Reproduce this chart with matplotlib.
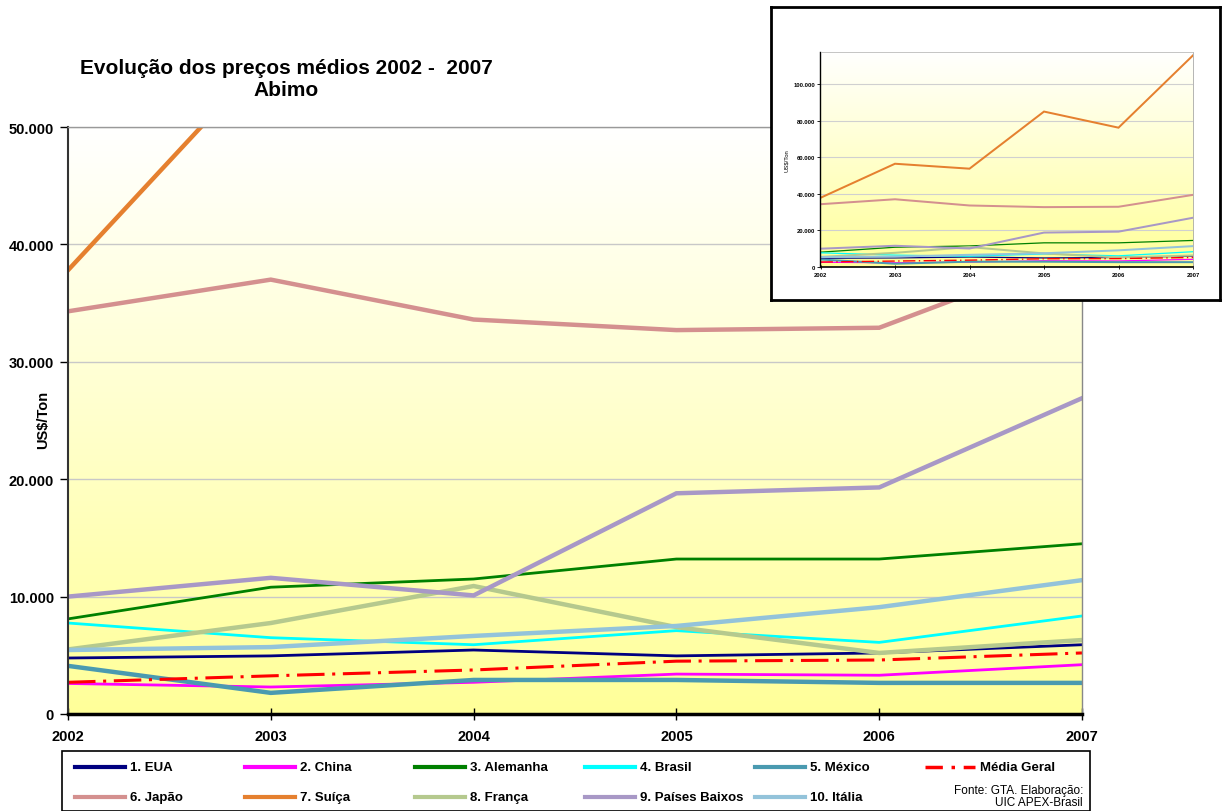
import numpy as np
import matplotlib
matplotlib.use("Agg")
import matplotlib.pyplot as plt
from matplotlib.ticker import FuncFormatter, MultipleLocator
from matplotlib.lines import Line2D
from matplotlib.patches import Rectangle
from matplotlib.colors import LinearSegmentedColormap

plt.rcParams['font.family'] = ['Liberation Sans', 'DejaVu Sans']

# ---------------- data ----------------
anos = [2002, 2003, 2004, 2005, 2006, 2007]
eua = [4770, 4950, 5450, 4950, 5200, 5900]
china = [2600, 2300, 2700, 3400, 3300, 4200]
alemanha = [8100, 10800, 11500, 13200, 13200, 14500]
brasil = [7750, 6500, 5900, 7100, 6100, 8350]
mexico = [4100, 1800, 2900, 2900, 2650, 2650]
japao = [34300, 37000, 33600, 32700, 32900, 39400]
suica = [37800, 56400, 53700, 84900, 76100, 115600]
franca = [5500, 7750, 10900, 7400, 5200, 6300]
paises_baixos = [10000, 11600, 10100, 18800, 19300, 26900]
italia = [5450, 5700, 6650, 7500, 9100, 11400]
media_geral = [2700, 3250, 3750, 4500, 4600, 5200]

nomes = ["1. EUA", "2. China", "3. Alemanha", "4. Brasil", "5. México",
         "6. Japão", "7. Suíça", "8. França", "9. Países Baixos", "10. Itália",
         "Média Geral"]
series = [eua, china, alemanha, brasil, mexico, japao, suica, franca,
          paises_baixos, italia, media_geral]
cores = ["#000080", "#FF00FF", "#008000", "#00FFFF", "#4A9AB0",
         "#D4908F", "#E5802F", "#B5C98E", "#A898C6", "#93C3DA", "#FF0000"]
larguras = [2.0, 2.0, 2.0, 2.0, 3.2, 3.2, 3.2, 3.2, 3.2, 3.2, 2.2]
estilos = ["-"] * 10 + ["dashdot"]

titulo_1 = "Evolução dos preços médios 2002 -  2007"
titulo_2 = "Abimo"
fonte_txt = "Fonte: GTA. Elaboração:\nUIC APEX-Brasil"

W, H = 1223, 812
fig = plt.figure(figsize=(W / 100, H / 100), dpi=100)
fig.patch.set_facecolor("white")

grad_cmap = LinearSegmentedColormap.from_list("g", ["#FFFF99", "#FFFFFF"])

def fx(px):
    return px / W

def fy(py):
    return 1 - py / H

def fmt(v, pos):
    return f"{v:,.0f}".replace(",", ".")

def style_series(ax, lw_scale=1.0):
    for s, c, lw, ls in zip(series, cores, larguras, estilos):
        if ls == "dashdot":
            ax.plot(anos, s, color=c, lw=lw * lw_scale, dashes=(9, 2.5, 1, 2.5),
                    solid_capstyle="butt")
        else:
            ax.plot(anos, s, color=c, lw=lw * lw_scale, solid_joinstyle="miter")

# ---------------- main axes ----------------
ax = fig.add_axes([fx(68), fy(715), fx(1082 - 68), (715 - 128) / H])
ax.set_xlim(2002, 2007)
ax.set_ylim(0, 50000)
ax.imshow(np.linspace(0, 1, 256).reshape(-1, 1), aspect="auto", cmap=grad_cmap,
          extent=[2002, 2007, 0, 50000], origin="lower", zorder=0)
ax.yaxis.set_major_locator(MultipleLocator(10000))
ax.grid(axis="y", color="#C8C8C8", lw=1, zorder=0.5)
style_series(ax)
ax.yaxis.set_major_formatter(FuncFormatter(fmt))
ax.set_xticks(anos)
ax.tick_params(axis="y", direction="out", length=6, width=1, labelsize=10.5, pad=4)
ax.tick_params(axis="x", direction="inout", length=9, width=1, labelsize=10.5, pad=6)
for lab in ax.get_xticklabels() + ax.get_yticklabels():
    lab.set_fontweight("bold")
ax.spines["bottom"].set_linewidth(2.5)
ax.spines["bottom"].set_color("black")
ax.spines["left"].set_linewidth(1.5)
ax.spines["left"].set_color("#333333")
ax.spines["right"].set_color("#888888")
ax.spines["right"].set_linewidth(1)
ax.spines["top"].set_color("#999999")
ax.spines["top"].set_linewidth(1)
fig.text(fx(43), fy(420), "US$/Ton", rotation=90, ha="center", va="center",
         fontsize=10.5, fontweight="bold")

fig.text(fx(286), fy(69), titulo_1, ha="center", va="center", fontsize=15,
         fontweight="bold")
fig.text(fx(286), fy(91), titulo_2, ha="center", va="center", fontsize=15,
         fontweight="bold")

# ---------------- legend (bottom box) ----------------
fig.patches.append(Rectangle((fx(62), fy(812)), fx(1090 - 62), (812 - 752) / H,
                             transform=fig.transFigure, facecolor="white",
                             edgecolor="black", lw=1.2))
col_x = [75, 245, 415, 585, 755, 925]
row_y = [768, 798]
for i, (nm, c, lw, ls) in enumerate(zip(nomes, cores, larguras, estilos)):
    if i < 5:
        r, k = 0, i
    elif i < 10:
        r, k = 1, i - 5
    else:
        r, k = 0, 5
    x0 = col_x[k]
    y0 = row_y[r]
    if ls == "dashdot":
        ln = Line2D([fx(x0), fx(x0 + 50)], [fy(y0), fy(y0)], transform=fig.transFigure,
                    color=c, lw=2.5, dashes=(5, 2.5, 1, 2.5))
    else:
        ln = Line2D([fx(x0), fx(x0 + 50)], [fy(y0), fy(y0)], transform=fig.transFigure,
                    color=c, lw=3)
    fig.lines.append(ln)
    fig.text(fx(x0 + 55), fy(y0), nm, ha="left", va="center", fontsize=9.5,
             fontweight="bold")
fig.text(fx(1083), fy(797), fonte_txt, ha="right", va="center", fontsize=8.5,
         linespacing=1.1)

# ---------------- inset ----------------
box = fig.add_axes([fx(771), fy(301), fx(1220 - 771), (301 - 8) / H])
box.set_facecolor("white")
box.set_xticks([])
box.set_yticks([])
for sp in box.spines.values():
    sp.set_linewidth(2)
    sp.set_color("black")

ins = fig.add_axes([fx(820.5), fy(268), fx(1193 - 820.5), (268 - 52.7) / H])
ins.set_xlim(2002, 2007)
ins.set_ylim(0, 117600)
ins.imshow(np.linspace(0, 1, 256).reshape(-1, 1), aspect="auto", cmap=grad_cmap,
           extent=[2002, 2007, 0, 117600], origin="lower", zorder=0)
ins.yaxis.set_major_locator(MultipleLocator(20000))
ins.grid(axis="y", color="#D0D0D0", lw=0.8, zorder=0.5)
style_series(ins, lw_scale=0.45)
ins.yaxis.set_major_formatter(FuncFormatter(fmt))
ins.set_xticks(anos)
ins.tick_params(axis="y", direction="out", length=2, width=0.6, labelsize=4.2, pad=2)
ins.tick_params(axis="x", direction="inout", length=3, width=0.6, labelsize=4.2, pad=2)
for lab in ins.get_xticklabels() + ins.get_yticklabels():
    lab.set_fontweight("bold")
ins.spines["bottom"].set_linewidth(1.2)
ins.spines["left"].set_linewidth(1)
ins.spines["right"].set_color("#AAAAAA")
ins.spines["top"].set_color("#BBBBBB")
ins.spines["right"].set_linewidth(0.6)
ins.spines["top"].set_linewidth(0.6)
ins.set_ylabel("US$/Ton", fontsize=4.2, labelpad=3)

fig.savefig("out.png", dpi=100)
